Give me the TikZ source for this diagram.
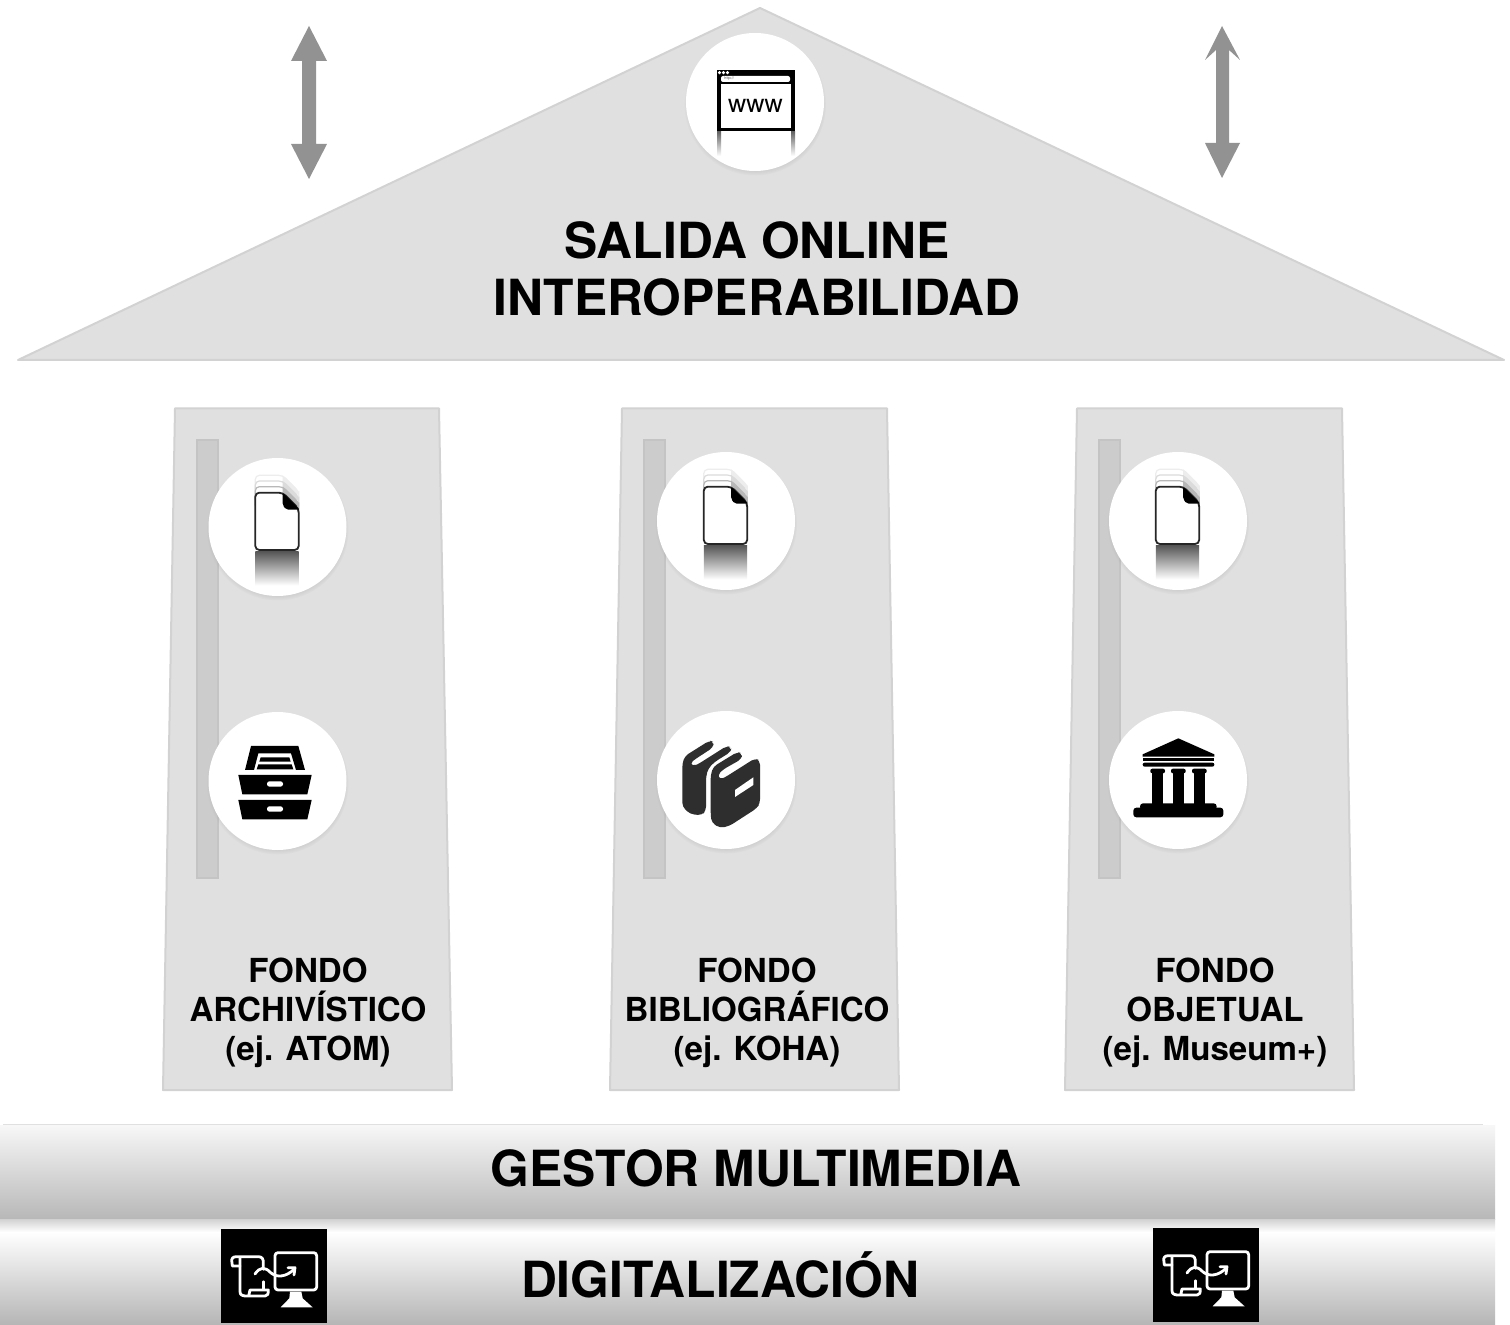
\documentclass[tikz,border=0pt]{standalone}
\usepackage{fontspec}
\setmainfont{TeX Gyre Heros}
\usetikzlibrary{shadows}
\definecolor{panelfill}{HTML}{E0E0E0}
\definecolor{paneledge}{HTML}{D2D2D2}
\definecolor{stripfill}{HTML}{CCCCCC}
\definecolor{stripedge}{HTML}{C4C4C4}
\definecolor{arrowgray}{HTML}{929292}
\definecolor{bookgray}{HTML}{2E2E2E}
\tikzset{
  panel/.style={fill=panelfill,draw=paneledge,line width=1pt,line join=round},
  strip/.style={fill=stripfill,draw=stripedge,line width=.6pt},
  badge/.style={circle,fill=white,minimum size=69pt,inner sep=0pt,
    circular drop shadow={shadow xshift=0pt,shadow yshift=-1.2pt,shadow scale=1.03,opacity=.35}},
  bigtitle/.style={font=\fontsize{24.9}{29}\selectfont\bfseries,align=center,inner sep=0pt},
  smalltitle/.style={font=\fontsize{16.55}{19.5}\selectfont\bfseries,align=center,inner sep=0pt},
  updown/.style={fill=arrowgray,draw=none},
  docicon/.pic={
    \foreach \dy/\g in {-52/7,-35/14,-18/28}{
      \fill[white,draw=black!\g,line width=.6pt,rounded corners=2pt]
        (-65,-88+\dy) -- (17,-88+\dy) -- (65,-40+\dy) -- (65,-20+\dy) -- (-65,-20+\dy) -- cycle;
      \fill[black!\g] (17,-88+\dy) -- (65,-40+\dy) -- (65,-30+\dy) -- (28,-30+\dy) -- (17,-45+\dy) -- cycle;
    }
    \fill[white,draw=black!85,line width=.9pt,rounded corners=2pt]
      (-65,-88) -- (17,-88) -- (65,-40) -- (65,84) -- (-65,84) -- cycle;
    \fill[black,rounded corners=1pt] (17,-88) -- (65,-40) -- (65,-37) -- (28,-37) -- (17,-50) -- cycle;
    \shade[top color=black!65,bottom color=white] (-65,90) rectangle (65,190);
  },
  scanicon/.pic={
    \fill[black] (63,57) rectangle (381,340);
    \begin{scope}[draw=white,line width=1.4pt,line cap=round,line join=round]
      \draw[rounded corners=1.5pt] (225,128) rectangle (350,240);
      \fill[white] (270,245) -- (304,245) -- (308,265) -- (338,292) -- (242,292) -- (268,265) -- cycle;
      \draw (120,168) -- (97,168) -- (95,150) .. controls (97,140) and (105,140) .. (115,140) -- (175,140) .. controls (187,140) and (190,148) .. (190,158) -- (190,178);
      \draw (190,215) -- (190,238);
      \draw (120,145) -- (120,245) .. controls (120,255) and (128,258) .. (138,258) -- (195,258) .. controls (203,258) and (205,252) .. (205,240) -- (150,240) -- (146,258);
      \draw (165,192) .. controls (180,170) and (195,170) .. (212,188) .. controls (232,205) and (260,200) .. (283,177);
      \draw (264,173) -- (285,173) -- (282,195);
    \end{scope}
  }
}
\begin{document}
\begin{tikzpicture}[x=.5pt,y=-.5pt]
\useasboundingbox (0,0) rectangle (1510,1325);
\fill[white] (0,0) rectangle (1510,1325);

% pediment
\draw[panel] (760,8) -- (1504,360) -- (18,360) -- cycle;

% up/down arrows
\fill[updown] (309,26) -- (327,61) -- (316,61) -- (316,144) -- (327,144) -- (309,179) -- (291,144) -- (302,144) -- (302,61) -- (291,61) -- cycle;
\fill[updown] (1222,26) -- (1240,60) -- (1229,50) -- (1229,143) -- (1240,143) -- (1222,178) -- (1205,143) -- (1216,143) -- (1216,50) -- (1205,60) -- cycle;

% pillars
\draw[panel] (175,408.5) -- (439,408.5) -- (452,1090) -- (163,1090) -- cycle;
\draw[panel] (622,408.5) -- (887,408.5) -- (899,1090) -- (610,1090) -- cycle;
\draw[panel] (1077,408.5) -- (1342,408.5) -- (1354,1090) -- (1065,1090) -- cycle;
\draw[strip] (197,440) rectangle (218,878);
\draw[strip] (644,440) rectangle (665,878);
\draw[strip] (1099,440) rectangle (1120,878);

% badges
\node[badge] (web) at (755,102) {};
\node[badge] (docA) at (277.5,527) {};
\node[badge] (docB) at (726,521) {};
\node[badge] (docC) at (1178,521) {};
\node[badge] (archive) at (277.5,781) {};
\node[badge] (books) at (726,780) {};
\node[badge] (museum) at (1178,780) {};

% web icon
\begin{scope}
  \shade[top color=black!60,bottom color=white] (717,132) rectangle (721,156);
  \shade[top color=black!60,bottom color=white] (791,132) rectangle (795,156);
  \fill[black] (717,70) rectangle (795,131);
  \fill[white] (721,84) rectangle (791,128);
  \fill[white,rounded corners=1pt] (721,76) rectangle (790,82);
  \foreach \dotx in {719.5,723.5,727.5} \fill[white] (\dotx,72.7) circle (1.7);
\end{scope}
\node[font=\fontsize{1.9}{2}\selectfont,text=black!70,inner sep=0pt,anchor=west] (urltext) at (724,79) {http://};
\node[font=\fontsize{12.6}{14}\selectfont,inner sep=0pt] (wwwtext) at (755.5,105.5) {www};

% document icons
\pic at (277,522) [scale=1/3] {docicon};
\pic at (725.5,516) [scale=1/3] {docicon};
\pic at (1177.5,516) [scale=1/3] {docicon};

% archive icon
\begin{scope}[shift={(190,700)},scale=1/3]
  \fill[black] (183,138) -- (325,138) -- (345,210) -- (318,210) -- (303,160) -- (205,160) -- (192,210) -- (165,210) -- cycle;
  \fill[black] (212,172) -- (298,172) -- (302,185) -- (208,185) -- cycle;
  \fill[black] (205,193) -- (305,193) -- (310,208) -- (200,208) -- cycle;
  \fill[black] (145,225) -- (365,225) -- (352,283) -- (157,283) -- cycle;
  \fill[black] (145,300) -- (365,300) -- (352,358) -- (157,358) -- cycle;
  \fill[white,rounded corners=1.2pt] (231,244) rectangle (279,260);
  \fill[white,rounded corners=1.2pt] (231,319) rectangle (279,335);
\end{scope}

% books icon
\begin{scope}[shift={(640,700)},scale=1/3]
  \fill[bookgray,rounded corners=2pt] (127,190) -- (135,168) -- (208,122) -- (221,125) -- (220,142) -- (165,178) -- (149,190) -- (160,199) -- (175,192) -- (260,138) -- (274,142) -- (272,156) -- (225,185) -- (205,205) -- (198,230) -- (198,332) -- (185,346) -- (150,342) -- (127,320) -- cycle;
  \fill[bookgray,rounded corners=2pt] (212,225) -- (220,200) -- (292,156) -- (306,160) -- (305,177) -- (250,208) -- (232,225) -- (240,239) -- (255,232) -- (345,175) -- (360,182) -- (360,310) -- (350,325) -- (268,378) -- (240,384) -- (215,368) -- (212,345) -- cycle;
  \fill[white] (285,270) -- (340,232) -- (340,255) -- (285,291) -- cycle;
\end{scope}

% museum icon
\begin{scope}[shift={(1095,700)},scale=1/3]
  \fill[black] (143,163) -- (250,115) -- (358,163) -- (358,170) -- (143,170) -- cycle;
  \fill[black] (143,174) rectangle (358,184);
  \fill[black,rounded corners=1pt] (143,188) rectangle (358,200);
  \foreach \colx in {188,250,313}{
    \fill[black,rounded corners=1pt] (\colx-22,206) rectangle (\colx+22,220);
    \fill[black] (\colx-16,215) rectangle (\colx+16,312);
  }
  \fill[black,rounded corners=1.5pt] (135,310) rectangle (365,330);
  \fill[black,rounded corners=1.5pt] (115,323) rectangle (385,352);
\end{scope}

% titles
\node[bigtitle] (salida) at (757,240) {SALIDA ONLINE};
\node[bigtitle] (inter) at (757,297) {INTEROPERABILIDAD};
\node[smalltitle] (fondoA) at (308,1012.5) {FONDO\\ARCHIVÍSTICO\\(ej. ATOM)};
\node[smalltitle] (fondoB) at (757,1012.5) {FONDO\\BIBLIOGRÁFICO\\(ej. KOHA)};
\node[smalltitle] (fondoC) at (1215,1012.5) {FONDO\\OBJETUAL\\(ej. Museum+)};

% bands
\fill[black!12] (3,1123.5) rectangle (1483,1125.5);
\shade[top color=black!3,bottom color=black!28] (0,1125) rectangle (1495,1219);
\shade[top color=black!18,bottom color=white] (0,1219) rectangle (1495,1232);
\shade[top color=white,bottom color=black!29] (0,1232) rectangle (1495,1325);
\node[bigtitle] (gestor) at (756,1168) {GESTOR MULTIMEDIA};
\node[bigtitle] (digital) at (720,1275) {DIGITALIZACIÓN};
\pic at (200,1210) [scale=1/3] {scanicon};
\pic at (1132,1209) [scale=1/3] {scanicon};
\end{tikzpicture}
\end{document}
